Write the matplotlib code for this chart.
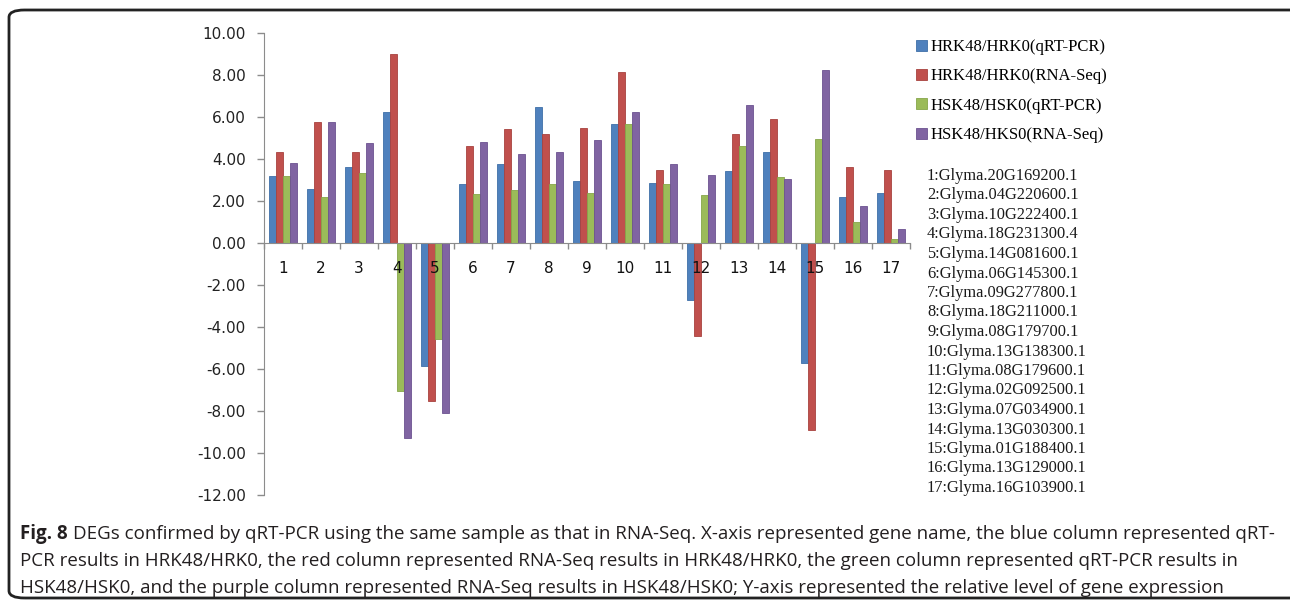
import numpy as np
import matplotlib.pyplot as plt
from matplotlib.patches import FancyBboxPatch

genes = [str(i) for i in range(1, 18)]
gene_names = ["Glyma.20G169200.1", "Glyma.04G220600.1", "Glyma.10G222400.1",
              "Glyma.18G231300.4", "Glyma.14G081600.1", "Glyma.06G145300.1",
              "Glyma.09G277800.1", "Glyma.18G211000.1", "Glyma.08G179700.1",
              "Glyma.13G138300.1", "Glyma.08G179600.1", "Glyma.02G092500.1",
              "Glyma.07G034900.1", "Glyma.13G030300.1", "Glyma.01G188400.1",
              "Glyma.13G129000.1", "Glyma.16G103900.1"]

hrk_qpcr = [3.20, 2.55, 3.60, 6.23, -5.84, 2.82, 3.74, 6.50, 2.95, 5.68, 2.88, -2.71, 3.41, 4.35, -5.70, 2.21, 2.40]
hrk_rnaseq = [4.35, 5.75, 4.35, 9.00, -7.52, 4.62, 5.41, 5.21, 5.48, 8.12, 3.47, -4.43, 5.20, 5.89, -8.92, 3.61, 3.47]
hsk_qpcr = [3.20, 2.20, 3.35, -7.05, -4.57, 2.34, 2.53, 2.82, 2.40, 5.68, 2.82, 2.28, 4.62, 3.15, 4.95, 1.02, 0.20]
hsk_rnaseq = [3.80, 5.75, 4.75, -9.27, -8.10, 4.81, 4.22, 4.35, 4.89, 6.23, 3.74, 3.22, 6.56, 3.07, 8.23, 1.74, 0.67]

series = [hrk_qpcr, hrk_rnaseq, hsk_qpcr, hsk_rnaseq]
labels = ["HRK48/HRK0(qRT-PCR)", "HRK48/HRK0(RNA-Seq)",
          "HSK48/HSK0(qRT-PCR)", "HSK48/HKS0(RNA-Seq)"]
colors = ["#4F81BD", "#C0504D", "#9BBB59", "#8064A2"]
edges = ["#3f6fa8", "#a8423f", "#86a64a", "#6c5290"]

fig = plt.figure(figsize=(12.9, 6.01), dpi=100)
ax = fig.add_axes([264 / 1290, 1 - 495 / 601, 646 / 1290, 462 / 601])

x = np.arange(len(genes))
w = 0.184
for i, (vals, lab, c, ec) in enumerate(zip(series, labels, colors, edges)):
    ax.bar(x + (i - 1.5) * w, vals, w, color=c, edgecolor=ec, linewidth=0.6,
           label=lab, zorder=1)

ax.set_xlim(-0.5, len(genes) - 0.5)
ax.set_ylim(-12, 10)
ax.set_yticks(np.arange(-12, 10.1, 2))
ax.set_yticklabels(["%.2f" % v for v in np.arange(-12, 10.1, 2)])
ax.set_xticks(x)
ax.set_xticklabels(genes)
ax.set_xticks(np.arange(-0.5, len(genes)), minor=True)
ax.set_axisbelow(False)  # gene numbers sit on top of the bars, like the original

for s in ["top", "right"]:
    ax.spines[s].set_visible(False)
ax.spines["bottom"].set_position(("data", 0))
ax.spines["bottom"].set_color("#8c8c8c")
ax.spines["left"].set_color("#8c8c8c")
ax.tick_params(axis="y", direction="out", length=5, width=1, color="#8c8c8c",
               labelsize=11, labelcolor="#222222", pad=8)
ax.tick_params(axis="x", which="major", length=0, labelsize=11,
               labelcolor="#111111", pad=13)
ax.tick_params(axis="x", which="minor", direction="out", length=4, width=1,
               color="#8c8c8c")
for t in ax.get_xticklabels() + ax.get_yticklabels():
    t.set_fontfamily("DejaVu Sans")

fig.legend(loc="upper left", bbox_to_anchor=(901 / 1290, 1 - 24 / 601),
           frameon=False, prop={"family": "Liberation Serif", "size": 12},
           handlelength=0.65, handleheight=0.65, handletextpad=0.25,
           labelspacing=0.8)

for i, name in enumerate(gene_names):
    fig.text(927 / 1290, 1 - (176 + 19.5 * i) / 601, "%d:%s" % (i + 1, name),
             family="Liberation Serif", size=11.8, color="#1a1a1a", va="center")

caption = ["DEGs confirmed by qRT-PCR using the same sample as that in RNA-Seq. X-axis represented gene name, the blue column represented qRT-",
           "PCR results in HRK48/HRK0, the red column represented RNA-Seq results in HRK48/HRK0, the green column represented qRT-PCR results in",
           "HSK48/HSK0, and the purple column represented RNA-Seq results in HSK48/HSK0; Y-axis represented the relative level of gene expression"]
cap_font = {"family": "Open Sans", "size": 13.5, "color": "#231f20"}
t = fig.text(20 / 1290, 1 - 534 / 601, "Fig. 8", weight="bold", va="center", **cap_font)
fig.canvas.draw()
bb = t.get_window_extent()
fig.text(bb.x1 / 1290 + 5 / 1290, 1 - 534 / 601, caption[0], va="center", **cap_font)
fig.text(20 / 1290, 1 - 561 / 601, caption[1], va="center", **cap_font)
fig.text(20 / 1290, 1 - 588 / 601, caption[2], va="center", **cap_font)

frame = FancyBboxPatch((9 / 1290, 3 / 601), 1.02, 1 - 10 / 601 - 3 / 601,
                       boxstyle="round,pad=0,rounding_size=0.012",
                       transform=fig.transFigure, fill=False,
                       edgecolor="#222222", linewidth=2, clip_on=False)
fig.patches.append(frame)

plt.savefig("out.png", dpi=100)
